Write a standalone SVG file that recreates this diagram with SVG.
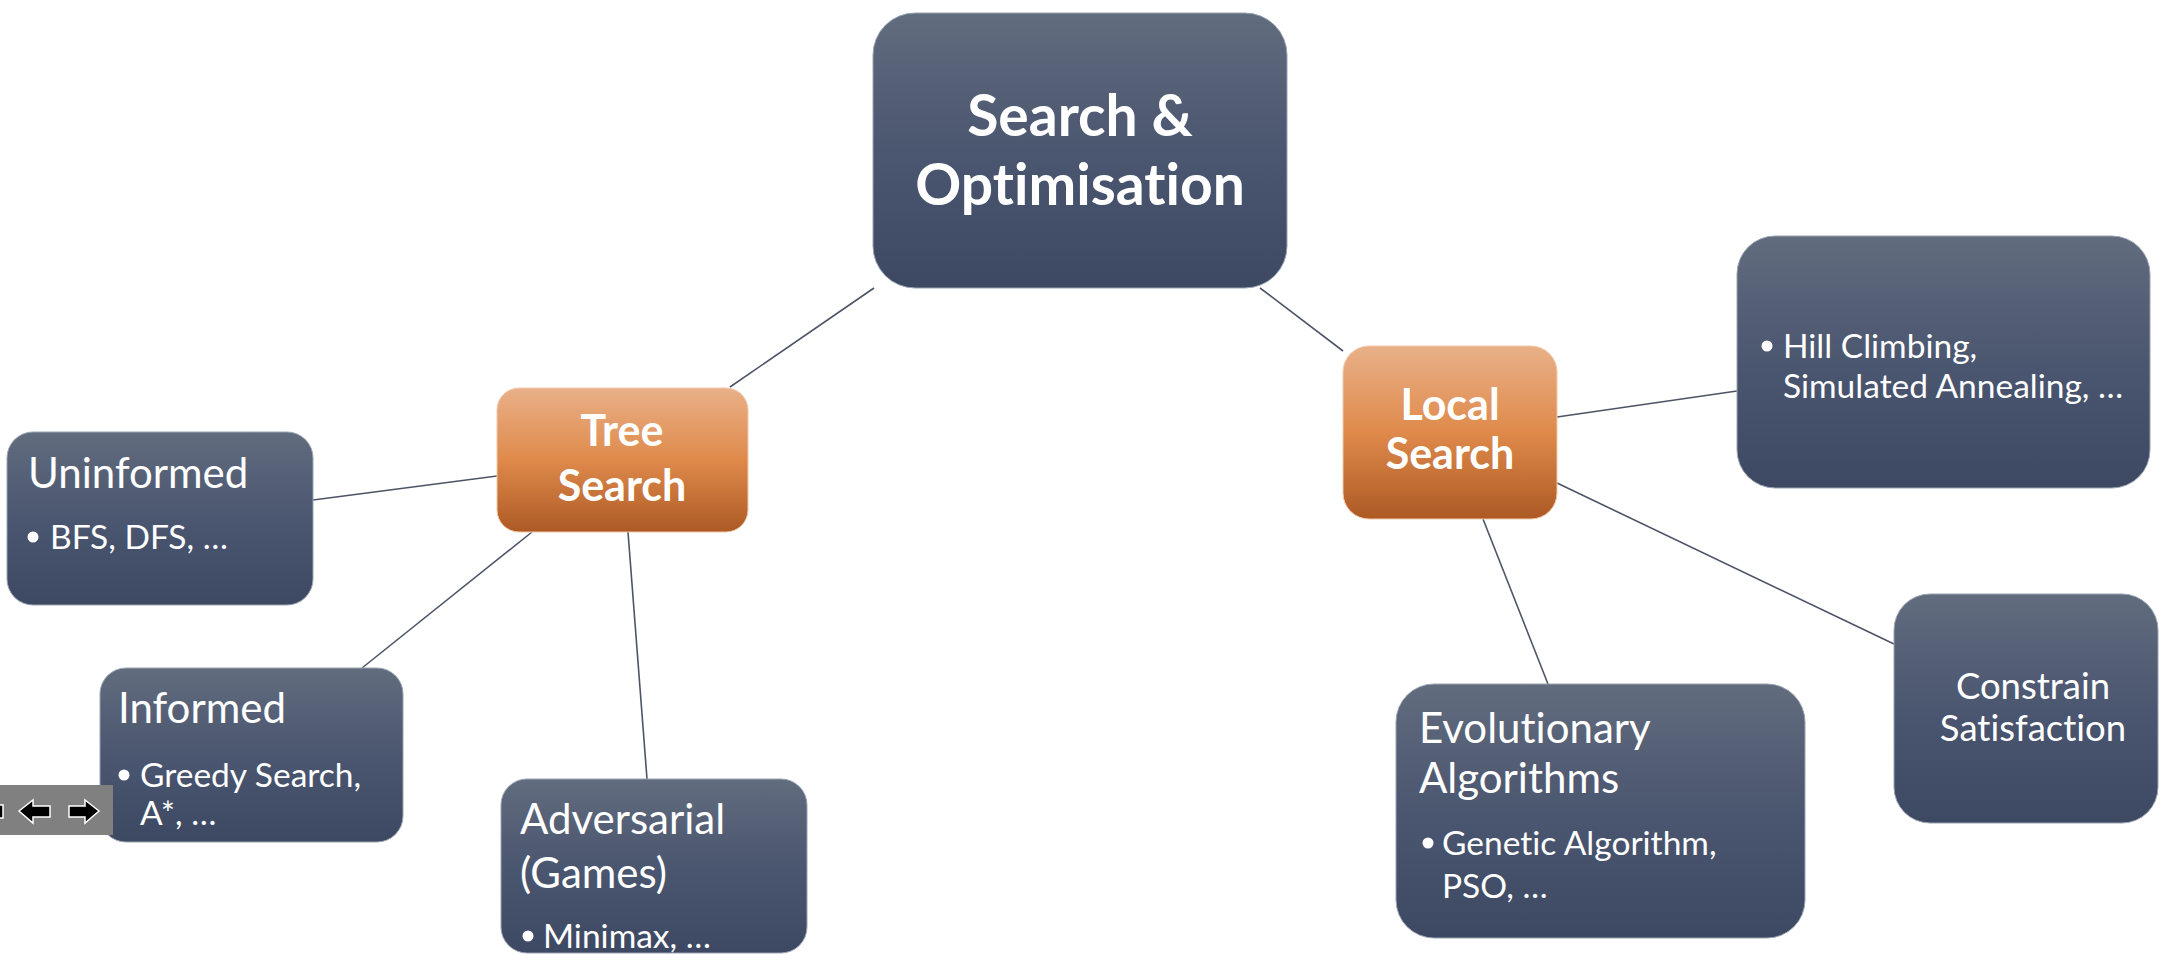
<svg xmlns="http://www.w3.org/2000/svg" width="2168" height="970" viewBox="0 0 2168 970">
<defs>
<linearGradient id="gBlue" x1="0" y1="0" x2="0" y2="1">
<stop offset="0" stop-color="#616c7e"/>
<stop offset="0.5" stop-color="#4b5670"/>
<stop offset="1" stop-color="#3d4962"/>
</linearGradient>
<linearGradient id="gOrange" x1="0" y1="0" x2="0" y2="1">
<stop offset="0" stop-color="#e9b088"/>
<stop offset="0.5" stop-color="#df8a4b"/>
<stop offset="1" stop-color="#ad5924"/>
</linearGradient>
<style>
.blue{fill:url(#gBlue);stroke:#9aa3b1;stroke-width:1;}
.orange{fill:url(#gOrange);stroke:#f0c9ab;stroke-width:1;}
.t{font-family:Lato,"Open Sans","Liberation Sans",sans-serif;fill:#ffffff;font-variant-ligatures:none;font-feature-settings:"liga" 0,"dlig" 0;}
.root{font-size:57px;font-weight:bold;text-anchor:middle;}
.mid{font-size:43px;font-weight:bold;text-anchor:middle;}
.title{font-size:42px;}
.item{font-size:33.5px;}
.cs{font-size:36.5px;text-anchor:middle;}
.bul{fill:#ffffff;}
.conn line{stroke:#4c5466;stroke-width:1.6;}
</style>
</defs>
<rect width="2168" height="970" fill="#ffffff"/>
<g id="connectors" class="conn">
<line x1="874" y1="288" x2="730" y2="387"/>
<line x1="1260" y1="288" x2="1343" y2="351"/>
<line x1="313" y1="500" x2="497" y2="476"/>
<line x1="362" y1="668" x2="532" y2="532"/>
<line x1="628" y1="532" x2="647" y2="779"/>
<line x1="1557" y1="417" x2="1737" y2="391"/>
<line x1="1557" y1="483" x2="1894" y2="644"/>
<line x1="1483" y1="519" x2="1548" y2="684"/>
</g>
<g id="root">
<rect class="blue" x="873" y="13" width="414" height="275" rx="42"/>
<text class="t root" x="1080" y="136">Search &amp;</text>
<text class="t root" x="1080" y="205">Optimisation</text>
</g>
<g id="tree-search">
<rect class="orange" x="497" y="388" width="251" height="144" rx="22"/>
<text class="t mid" x="622" y="446">Tree</text>
<text class="t mid" x="622" y="501">Search</text>
</g>
<g id="local-search">
<rect class="orange" x="1343" y="346" width="214" height="173" rx="26"/>
<text class="t mid" x="1450" y="420">Local</text>
<text class="t mid" x="1450" y="469">Search</text>
</g>
<g id="uninformed">
<rect class="blue" x="7" y="432" width="306" height="173" rx="26"/>
<text class="t title" x="28" y="488">Uninformed</text>
<circle class="bul" cx="33" cy="537" r="5.5"/>
<text class="t item" x="50" y="549">BFS, DFS, …</text>
</g>
<g id="informed">
<rect class="blue" x="100" y="668" width="303" height="174" rx="26"/>
<text class="t title" x="118" y="723">Informed</text>
<circle class="bul" cx="124" cy="775" r="5.5"/>
<text class="t item" x="140" y="787">Greedy Search,</text>
<text class="t item" x="140" y="825">A*, …</text>
</g>
<g id="adversarial">
<rect class="blue" x="501" y="779" width="306" height="174" rx="26"/>
<text class="t title" x="520" y="834">Adversarial</text>
<text class="t title" x="520" y="888">(Games)</text>
<circle class="bul" cx="528" cy="936" r="5.5"/>
<text class="t item" x="543" y="948">Minimax, …</text>
</g>
<g id="hill-climbing">
<rect class="blue" x="1737" y="236" width="413" height="252" rx="38"/>
<circle class="bul" cx="1767" cy="346" r="5.5"/>
<text class="t item" x="1783" y="358">Hill Climbing,</text>
<text class="t item" x="1783" y="398">Simulated Annealing, …</text>
</g>
<g id="evolutionary">
<rect class="blue" x="1396" y="684" width="409" height="254" rx="38"/>
<text class="t title" x="1419" y="743">Evolutionary</text>
<text class="t title" x="1419" y="793">Algorithms</text>
<circle class="bul" cx="1428" cy="843" r="5.5"/>
<text class="t item" x="1442" y="855">Genetic Algorithm,</text>
<text class="t item" x="1442" y="898">PSO, …</text>
</g>
<g id="constrain">
<rect class="blue" x="1894" y="594" width="264" height="229" rx="36"/>
<text class="t cs" x="2033" y="699">Constrain</text>
<text class="t cs" x="2033" y="741">Satisfaction</text>
</g>
<g id="nav-toolbar">
<rect x="0" y="785" width="113" height="50" fill="#808080"/>
<rect x="-4" y="805" width="7" height="13" fill="#000000" stroke="#ffffff" stroke-width="1.5"/>
<polygon points="19,811 33,800 33,806 50,806 50,817 33,817 33,823" fill="#000000" stroke="#ffffff" stroke-width="1.5"/>
<polygon points="99,811 85,800 85,806 69,806 69,817 85,817 85,823" fill="#000000" stroke="#ffffff" stroke-width="1.5"/>
</g>
</svg>
